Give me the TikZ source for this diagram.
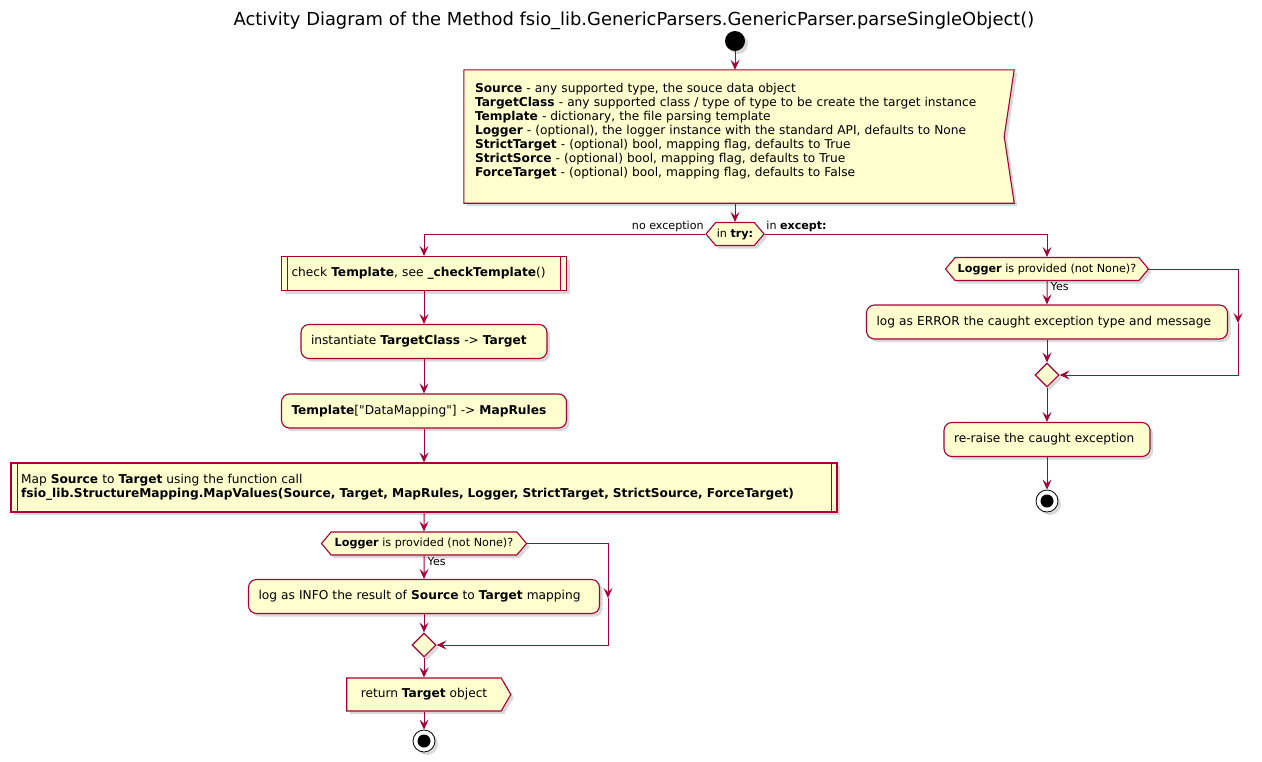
\documentclass[tikz,border=0pt]{standalone}
\usepackage{fontspec}
\setmainfont{DejaVu Sans}
\newfontfamily\plainquote{DejaVu Sans}
\usetikzlibrary{shapes.geometric, shapes.symbols, arrows.meta, positioning, shadows, backgrounds}
\definecolor{umlred}{HTML}{A80036}
\definecolor{umlfill}{HTML}{FEFECE}

\begin{document}
\begin{tikzpicture}[x=1pt, y=-1pt, node distance=60pt, auto,
    base/.style={draw=umlred, fill=umlfill, line width=1.1pt, font=\fontsize{12.2}{14}\selectfont,
        drop shadow={shadow xshift=3pt, shadow yshift=-3pt, opacity=0.3}},
    act/.style={base, rectangle, rounded corners=8pt, minimum height=34pt, inner xsep=10pt,
        text width=#1, align=left},
    subproc/.style={base, rectangle, minimum height=34pt, inner xsep=10pt, text width=#1, align=left,
        path picture={\draw[umlred, line width=1pt]
            ([xshift=6pt]path picture bounding box.north west) -- ([xshift=6pt]path picture bounding box.south west)
            ([xshift=-6pt]path picture bounding box.north east) -- ([xshift=-6pt]path picture bounding box.south east);}},
    decision/.style={base, shape=signal, signal to=west and east, signal pointer angle=100,
        font=\fontsize{11.2}{13}\selectfont, inner xsep=0pt, inner ysep=3pt, minimum height=23pt},
    merge/.style={base, diamond, minimum size=24pt, inner sep=0pt},
    startdot/.style={circle, fill=black, minimum size=20pt, inner sep=0pt,
        drop shadow={shadow xshift=3pt, shadow yshift=-3pt, opacity=0.3}},
    enddot/.style={circle, draw=black, fill=white, line width=0.8pt, minimum size=22pt, inner sep=0pt,
        drop shadow={shadow xshift=3pt, shadow yshift=-3pt, opacity=0.3},
        path picture={\fill[black] (path picture bounding box.center) circle (6.5pt);}},
    flow/.style={-{Stealth[length=10pt, width=9pt, inset=4pt]}, draw=umlred, line width=1pt},
    lbl/.style={font=\fontsize{11.1}{13}\selectfont, inner sep=1.5pt}]

    \useasboundingbox (0,0) rectangle (1262,761);

    \node[font=\fontsize{17.9}{20}\selectfont] (title) at (634,21)
        {Activity Diagram of the Method fsio\_lib.GenericParsers.GenericParser.parseSingleObject()};

    \node[startdot] (start) at (735,41) {};
    \node[font=\fontsize{12.2}{14}\selectfont, text width=528pt, align=left, inner xsep=11pt,
          minimum height=133pt] (args) at (739,136.5)
        {\textbf{Source} - any supported type, the souce data object\\
         \textbf{TargetClass} - any supported class / type of type to be create the target instance\\
         \textbf{Template} - dictionary, the file parsing template\\
         \textbf{Logger} - (optional), the logger instance with the standard API, defaults to None\\
         \textbf{StrictTarget} - (optional) bool, mapping flag, defaults to True\\
         \textbf{StrictSorce} - (optional) bool, mapping flag, defaults to True\\
         \textbf{ForceTarget} - (optional) bool, mapping flag, defaults to False\\
         \mbox{}};
    \begin{scope}[on background layer]
        \draw[base] (args.north west) -- (args.north east) -- ([xshift=-10pt]args.east)
            -- (args.south east) -- (args.south west) -- cycle;
    \end{scope}
    \node[decision, minimum width=58pt] (try) at (735,234) {in \textbf{try:}};

    % no exception branch
    \node[subproc=265pt] (chk) at (424,273.5) {check \textbf{Template}, see \textbf{\_checkTemplate}()};
    \node[act=226pt, below of=chk, node distance=68pt] (inst) {instantiate \textbf{TargetClass} {-}> \textbf{Target}};
    \node[act=265pt, below of=inst, node distance=69.5pt] (tpl) {\textbf{Template}[{\plainquote"}DataMapping{\plainquote"}] {-}> \textbf{MapRules}};
    \node[subproc=806pt, below of=tpl, node distance=76.5pt, minimum height=49pt] (mapv)
        {Map \textbf{Source} to \textbf{Target} using the function call\\
         \textbf{fsio\_lib.StructureMapping.MapValues(Source, Target, MapRules, Logger, StrictTarget, StrictSource, ForceTarget)}};
    \node[decision, below of=mapv, node distance=56pt, minimum width=205pt] (lgi) {\textbf{Logger} is provided (not None)?};
    \node[act=331pt, below of=lgi, node distance=53pt] (loginfo) {log as INFO the result of \textbf{Source} to \textbf{Target} mapping};
    \node[merge, below of=loginfo, node distance=48.5pt] (mgi) {};
    \node[base, shape=signal, signal to=east, signal pointer angle=120, minimum height=33pt, minimum width=164pt,
          below of=mgi, node distance=49.5pt] (ret) {return \textbf{Target} object};
    \node[enddot, below of=ret, node distance=46.5pt] (stopi) {};

    % except branch
    \node[decision, minimum width=203pt] (lge) at (1047,269) {\textbf{Logger} is provided (not None)?};
    \node[act=341pt, below of=lge, node distance=53pt] (logerr) {log as ERROR the caught exception type and message};
    \node[merge, below of=logerr, node distance=53pt] (mge) {};
    \node[act=186pt, below of=mge, node distance=64.5pt] (reraise) {re-raise the caught exception};
    \node[enddot, below of=reraise, node distance=61.5pt] (stope) {};

    \coordinate (lgiR) at (608,598);
    \coordinate (lgeR) at (1238,323);

    \node[lbl, anchor=south east] (noexc) at (try.west) {no exception};
    \node[lbl, anchor=south west] (inexc) at (try.east) {in \textbf{except:}};
    \node[lbl, anchor=north west, xshift=2pt] (yesi) at (lgi.south) {Yes};
    \node[lbl, anchor=north west, xshift=2pt] (yese) at (lge.south) {Yes};

    \draw[flow] (start) -- (start |- args.north);
    \draw[flow] (try |- args.south) -- (try.north);
    \draw[flow] (try.west) -| (chk.north);
    \draw[flow] (try.east) -| (lge.north);

    \draw[flow] (chk) -- (inst);
    \draw[flow] (inst) -- (tpl);
    \draw[flow] (tpl) -- (mapv);
    \draw[flow] (mapv) -- (lgi);
    \draw[flow] (lgi) -- (loginfo);
    \draw[flow] (loginfo) -- (mgi);
    \draw[flow] (lgi.east) -| (lgiR);
    \draw[flow] (lgiR) |- (mgi.east);
    \draw[flow] (mgi) -- (mgi |- ret.north);
    \draw[flow] (mgi |- ret.south) -- (stopi);

    \draw[flow] (lge) -- (logerr);
    \draw[flow] (logerr) -- (mge);
    \draw[flow] (lge.east) -| (lgeR);
    \draw[flow] (lgeR) |- (mge.east);
    \draw[flow] (mge) -- (reraise);
    \draw[flow] (reraise) -- (stope);
\end{tikzpicture}
\end{document}
